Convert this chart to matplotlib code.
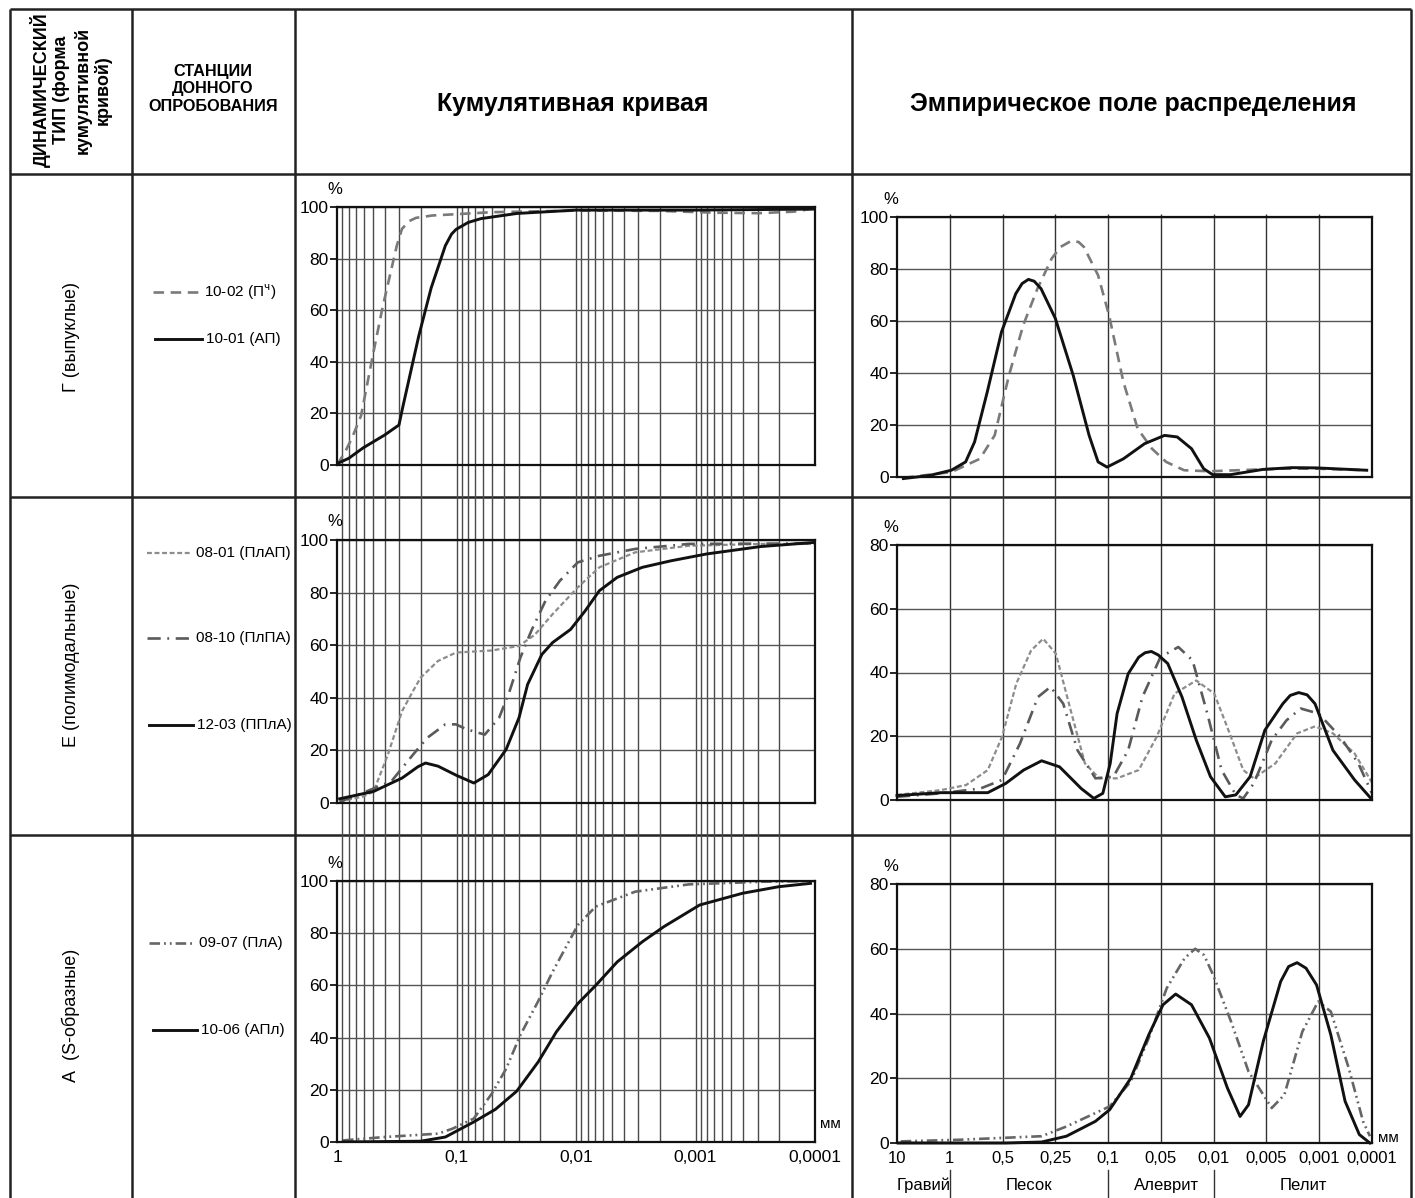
import matplotlib
matplotlib.use("Agg")
import matplotlib.pyplot as plt
from matplotlib.ticker import FixedLocator, NullFormatter

plt.rcParams['font.family'] = ['Liberation Sans', 'DejaVu Sans']

# ---- cumulative curves: grain size (mm) vs cumulative %
s1002_mm = [1.0, 0.857, 0.749, 0.63, 0.494, 0.416, 0.316, 0.286, 0.25, 0.218, 0.16, 0.102, 0.05, 0.01, 0.002, 0.0007, 0.0003, 0.00015, 0.0001]
s1002_pct = [0, 5, 10.5, 19, 44, 61, 85, 91.5, 94.5, 95.8, 96.7, 97.2, 98, 98.6, 98.5, 97.8, 97.6, 98.2, 99.5]
s1001_mm = [1.0, 0.797, 0.606, 0.4, 0.303, 0.283, 0.207, 0.163, 0.124, 0.11, 0.101, 0.08, 0.0624, 0.0312, 0.01, 0.001, 0.0001]
s1001_pct = [0.5, 2.6, 6.6, 11.6, 15.5, 22, 50, 68.6, 85, 89.5, 91.3, 94, 95.5, 97.5, 98.8, 98.8, 99.2]

s0801_mm = [0.95, 0.6, 0.494, 0.375, 0.285, 0.231, 0.2, 0.143, 0.101, 0.0507, 0.030, 0.0221, 0.0157, 0.00966, 0.00638, 0.0032, 0.00114, 0.000286, 0.0001]
s0801_pct = [0.6, 2.5, 4.4, 18.4, 35, 42.6, 47.6, 54, 57.2, 58, 59.7, 64, 71.8, 82, 89.6, 95.3, 97.8, 98.5, 98.5]
s0810_mm = [0.95, 0.568, 0.35, 0.231, 0.1755, 0.124, 0.101, 0.082, 0.058, 0.044, 0.0359, 0.0292, 0.0237, 0.018, 0.01365, 0.00966, 0.00638, 0.0032, 0.00114, 0.0001]
s0810_pct = [0.4, 4.4, 8.3, 18.4, 24.8, 29.9, 29.9, 28, 26, 32.4, 42.6, 55.3, 65.4, 76.9, 84.5, 91.5, 94, 96.6, 98.5, 98.7]
s1203_mm = [0.95, 0.494, 0.285, 0.21, 0.1817, 0.1426, 0.1, 0.0716, 0.0543, 0.0385, 0.030, 0.0254, 0.0193, 0.0157, 0.0111, 0.0084, 0.00638, 0.00452, 0.00279, 0.0016, 0.000805, 0.000286, 0.0001]
s1203_pct = [1.6, 4.4, 9.5, 13.8, 15.2, 14, 10.5, 7.6, 10.8, 20.3, 32.4, 45.1, 56.5, 61, 66, 73, 80.7, 85.8, 89.6, 92.1, 94.7, 97.5, 99.1]

s0907_mm = [0.89, 0.402, 0.1426, 0.108, 0.0716, 0.0507, 0.0385, 0.0292, 0.0207, 0.0157, 0.00966, 0.00684, 0.0032, 0.00114, 0.000286, 0.0001]
s0907_pct = [0.6, 1.9, 3.2, 5.1, 9, 18.5, 28, 41, 54, 65.2, 83.1, 90.2, 95.9, 98.7, 99.7, 100]
s1006_mm = [0.89, 0.2, 0.124, 0.0716, 0.0473, 0.0313, 0.0207, 0.0146, 0.00966, 0.00684, 0.00452, 0.00279, 0.00184, 0.000923, 0.000404, 0.000202, 0.000109]
s1006_pct = [0, 0.3, 1.9, 7.7, 12.5, 19.5, 30.7, 42.2, 53, 60, 69, 76.7, 82.5, 90.8, 95.3, 97.8, 99.1]

# ---- empirical distribution: position on the fraction scale vs %
emp_labels = ['10', '1', '0,5', '0,25', '0,1', '0,05', '0,01', '0,005', '0,001', '0,0001']
e1001_pos = [0.12, 0.62, 1.03, 1.3, 1.47, 1.71, 1.98, 2.25, 2.37, 2.49, 2.6, 2.73, 3.0, 3.34, 3.64, 3.81, 3.98, 4.29, 4.69, 5.07, 5.31, 5.58, 5.81, 5.98, 6.32, 6.93, 7.48, 7.95, 8.9]
e1001_pct = [-0.6, 0.6, 2.6, 5.8, 13.5, 32.7, 55.8, 70.5, 74.4, 76, 75.3, 72.4, 61, 39, 16, 5.8, 3.8, 7, 12.8, 16, 15.4, 10.9, 3.2, 0.9, 0.9, 2.9, 3.6, 3.5, 2.6]
e1002_pos = [0.12, 1.03, 1.57, 1.85, 2.12, 2.39, 2.66, 2.93, 3.1, 3.3, 3.44, 3.54, 3.81, 4.02, 4.29, 4.56, 4.83, 5.1, 5.44, 5.92, 7.27, 7.95, 8.9]
e1002_pct = [-0.3, 1.9, 7, 16, 39, 58.3, 72.4, 84, 88.5, 90.8, 90.4, 88.5, 77.6, 62, 36.5, 18.6, 10.9, 5.8, 2.6, 2.2, 3.2, 3.2, 2.6]

e1203_pos = [0, 0.83, 1.72, 2.06, 2.4, 2.74, 3.08, 3.49, 3.73, 3.9, 4.04, 4.17, 4.38, 4.58, 4.7, 4.82, 4.95, 5.13, 5.4, 5.67, 5.94, 6.22, 6.42, 6.69, 6.97, 7.31, 7.45, 7.61, 7.77, 7.92, 8.26, 8.67, 8.98]
e1203_pct = [1.4, 2.3, 2.3, 5.2, 9.4, 12.3, 10.4, 3.6, 0.5, 2.1, 11.5, 27.1, 39.6, 44.8, 46.2, 46.6, 45.5, 42.8, 32.3, 18.8, 7.3, 1, 1.6, 7.3, 21.9, 30.2, 32.8, 33.7, 33, 30.2, 15.6, 6.3, 0.5]
e0801_pos = [0, 0.83, 1.31, 1.72, 1.99, 2.26, 2.54, 2.77, 3.01, 3.29, 3.56, 3.83, 4.17, 4.58, 4.92, 5.26, 5.67, 6.01, 6.28, 6.56, 6.76, 7.17, 7.58, 7.92, 8.26, 8.67, 9.01]
e0801_pct = [1.6, 3.1, 4.7, 9.4, 19.8, 36.5, 46.9, 50.6, 45.9, 28.2, 11.5, 6.8, 6.8, 9.4, 19.8, 33.4, 37.5, 33.4, 21.9, 9.4, 6.8, 11.5, 20.9, 23.1, 20.9, 14.6, 5.2]
e0810_pos = [0, 0.83, 1.58, 1.99, 2.33, 2.67, 2.91, 3.15, 3.42, 3.76, 4.1, 4.38, 4.65, 4.99, 5.33, 5.6, 5.88, 6.15, 6.42, 6.56, 6.76, 7.1, 7.38, 7.65, 7.99, 8.4, 8.74, 9.0]
e0810_pct = [1, 2.1, 3.6, 6.3, 17.7, 32.3, 35.5, 30.2, 15.6, 6.8, 7.3, 15.6, 32.3, 44.8, 48, 43.8, 27.1, 9.4, 1.6, 0.5, 5.2, 18.8, 25, 28.7, 27.1, 19.8, 11.5, 2.1]

e1006_pos = [0.03, 2.06, 2.74, 3.21, 3.76, 4.03, 4.43, 4.77, 5.04, 5.28, 5.58, 5.92, 6.26, 6.5, 6.66, 6.94, 7.27, 7.42, 7.58, 7.75, 7.95, 8.22, 8.49, 8.76, 8.96]
e1006_pct = [0, 0, 0.3, 2.1, 6.7, 10.3, 20, 33.4, 42.7, 46, 42.7, 32.4, 17, 8.2, 11.8, 31.4, 49.9, 54.5, 55.7, 54, 48.8, 33.4, 12.9, 2.6, 0]
e0907_pos = [0.07, 1.18, 2.74, 3.21, 4.03, 4.43, 4.77, 5.11, 5.45, 5.65, 5.82, 5.99, 6.33, 6.66, 7.1, 7.34, 7.68, 7.98, 8.22, 8.56, 8.83, 8.96]
e0907_pct = [0.5, 1, 2.1, 5.1, 11.3, 19, 32.4, 47.8, 57.1, 60, 58, 51.9, 37.5, 22.1, 10.8, 14.9, 34.4, 43.7, 40.6, 23.1, 6.7, 2.1]

fractions = ['Гравий', 'Песок', 'Алеврит', 'Пелит']
fraction_pos = [0.5, 2.5, 5.1, 7.7]
fraction_bounds = [1, 4, 6]

# line styles
BLACK = dict(color='#111111', lw=2.1, ls='-')
DASH = dict(color='#7a7a7a', lw=1.9, ls=(0, (4, 2.5)))
DOT = dict(color='#8c8c8c', lw=1.6, ls=(0, (2.2, 1.2)))
DASHDOT = dict(color='#5a5a5a', lw=1.9, ls=(0, (5, 2.5, 0.7, 2.5)))
DASHDOTDOT = dict(color='#666666', lw=1.9, ls=(0, (4, 1.5, 0.7, 1.5, 0.7, 1.5)))

W, H = 1415, 1198
fig = plt.figure(figsize=(W / 100, H / 100), dpi=100)


def box(x0, y0, x1, y1):
    return [x0 / W, 1 - y1 / H, (x1 - x0) / W, (y1 - y0) / H]


# table frame and texts, in pixel coordinates
frame = fig.add_axes([0, 0, 1, 1])
frame.set_xlim(0, W)
frame.set_ylim(H, 0)
frame.axis('off')
tc = dict(color='#222222', lw=1.8, solid_capstyle='butt')
frame.plot([10, 1411], [9, 9], **tc)
for x in [10, 132, 295, 852, 1411]:
    frame.plot([x, x], [9, H], **tc)
for y in [174, 497, 835]:
    frame.plot([10, 1411], [y, y], **tc)

frame.text(71, 90, 'ДИНАМИЧЕСКИЙ\nТИП (форма\nкумулятивной\nкривой)', rotation=90,
           ha='center', va='center', multialignment='center', fontsize=13,
           fontweight='bold', linespacing=1.2)
frame.text(213, 89, 'СТАНЦИИ\nДОННОГО\nОПРОБОВАНИЯ', ha='center', va='center',
           multialignment='center', fontsize=11.7, fontweight='bold', linespacing=1.2)
frame.text(573, 104, 'Кумулятивная кривая', ha='center', va='center', fontsize=18, fontweight='bold')
frame.text(1133, 104, 'Эмпирическое поле распределения', ha='center', va='center', fontsize=18, fontweight='bold')

frame.text(71, 337, 'Г (выпуклые)', rotation=90, ha='center', va='center', fontsize=13)
frame.text(71, 665, 'Е (полимодальные)', rotation=90, ha='center', va='center', fontsize=13)
frame.text(71, 1015, 'А  (S-образные)', rotation=90, ha='center', va='center', fontsize=13)

legend_items = [
    (292, 153, 200, DASH, '10-02 (П$^{\\mathrm{ч}}$)'),
    (339, 155, 202, BLACK, '10-01 (АП)'),
    (553, 147, 192, DOT, '08-01 (ПлАП)'),
    (638, 147, 192, DASHDOT, '08-10 (ПлПА)'),
    (725, 149, 193, BLACK, '12-03 (ППлА)'),
    (943, 149, 195, DASHDOTDOT, '09-07 (ПлА)'),
    (1030, 153, 197, BLACK, '10-06 (АПл)'),
]
for y, x0, x1, st, lab in legend_items:
    frame.plot([x0, x1], [y, y], **st)
    frame.text(x1 + 4, y, lab, ha='left', va='center', fontsize=11)

# ---- cumulative column
grid_mm = [k * 10.0 ** (-d) for d in range(1, 5) for k in range(1, 10)]
grid_mm = [g for g in grid_mm if 1e-4 < g < 1]
cg = fig.add_axes(box(337, 207, 815, 1142))
cg.set_xscale('log')
cg.set_xlim(1, 1e-4)
cg.axis('off')
cg.vlines(grid_mm, 0, 1, transform=cg.get_xaxis_transform(), color='#4a4a4a', lw=1.0)


def cum_panel(top, bottom):
    ax = fig.add_axes(box(337, top, 815, bottom))
    ax.set_facecolor('none')
    ax.set_xscale('log')
    ax.set_xlim(1, 1e-4)
    ax.set_ylim(0, 100)
    ax.set_yticks([0, 20, 40, 60, 80, 100])
    ax.xaxis.set_major_locator(FixedLocator([1, 0.1, 0.01, 0.001, 0.0001]))
    ax.xaxis.set_minor_formatter(NullFormatter())
    ax.grid(axis='y', color='#555555', lw=1.0)
    ax.tick_params(axis='x', which='both', length=0, labelbottom=False)
    ax.tick_params(axis='y', length=5, width=1.2, labelsize=12.5, pad=1)
    for s in ax.spines.values():
        s.set_linewidth(1.6)
        s.set_color('#111111')
    ax.text(-0.005, 1.04, '%', transform=ax.transAxes, ha='center', va='bottom', fontsize=12)
    return ax


ax = cum_panel(207, 465)
ax.plot(s1002_mm, s1002_pct, **DASH)
ax.plot(s1001_mm, s1001_pct, **BLACK)

ax = cum_panel(540, 803)
ax.plot(s0801_mm, s0801_pct, **DOT)
ax.plot(s0810_mm, s0810_pct, **DASHDOT)
ax.plot(s1203_mm, s1203_pct, **BLACK)

ax = cum_panel(881, 1142)
ax.plot(s0907_mm, s0907_pct, **DASHDOTDOT)
ax.plot(s1006_mm, s1006_pct, **BLACK)
ax.set_xticklabels(['1', '0,1', '0,01', '0,001', '0,0001'])
ax.tick_params(axis='x', which='major', labelbottom=True, labelsize=12.5, pad=6)
ax.text(1.01, 0.07, 'мм', transform=ax.transAxes, ha='left', va='center', fontsize=11)

# ---- empirical column
eg = fig.add_axes(box(897, 214, 1372, 1143))
eg.set_xlim(0, 9)
eg.axis('off')
eg.vlines(range(1, 9), 0, 1, transform=eg.get_xaxis_transform(), color='#333333', lw=1.0)


def emp_panel(top, bottom, ymax):
    ax = fig.add_axes(box(897, top, 1372, bottom))
    ax.set_facecolor('none')
    ax.set_xlim(0, 9)
    ax.set_ylim(0, ymax)
    ax.set_yticks(range(0, ymax + 1, 20))
    ax.set_xticks(range(10))
    ax.grid(axis='y', color='#555555', lw=1.0)
    ax.tick_params(axis='x', length=0, labelbottom=False)
    ax.tick_params(axis='y', length=5, width=1.2, labelsize=12.5, pad=1)
    for s in ax.spines.values():
        s.set_linewidth(1.6)
        s.set_color('#111111')
    ax.text(-0.013, 1.04, '%', transform=ax.transAxes, ha='center', va='bottom', fontsize=12)
    return ax


ax = emp_panel(217, 477, 100)
ax.plot(e1002_pos, e1002_pct, clip_on=False, **DASH)
ax.plot(e1001_pos, e1001_pct, clip_on=False, **BLACK)

ax = emp_panel(545, 800, 80)
ax.plot(e0801_pos, e0801_pct, clip_on=False, **DOT)
ax.plot(e0810_pos, e0810_pct, clip_on=False, **DASHDOT)
ax.plot(e1203_pos, e1203_pct, clip_on=False, **BLACK)

ax = emp_panel(884, 1143, 80)
ax.plot(e0907_pos, e0907_pct, clip_on=False, **DASHDOTDOT)
ax.plot(e1006_pos, e1006_pct, clip_on=False, **BLACK)
ax.set_xticklabels(emp_labels)
ax.tick_params(axis='x', labelbottom=True, labelsize=12, pad=6)
ax.text(1.012, 0.02, 'мм', transform=ax.transAxes, ha='left', va='center', fontsize=11)
for b in fraction_bounds:
    ax.plot([b, b], [-0.105, -0.22], transform=ax.get_xaxis_transform(), clip_on=False,
            color='#333333', lw=1.0)
for name, p in zip(fractions, fraction_pos):
    ax.text(p, -0.165, name, transform=ax.get_xaxis_transform(), ha='center', va='center', fontsize=12)

fig.savefig('out.png', dpi=100)
